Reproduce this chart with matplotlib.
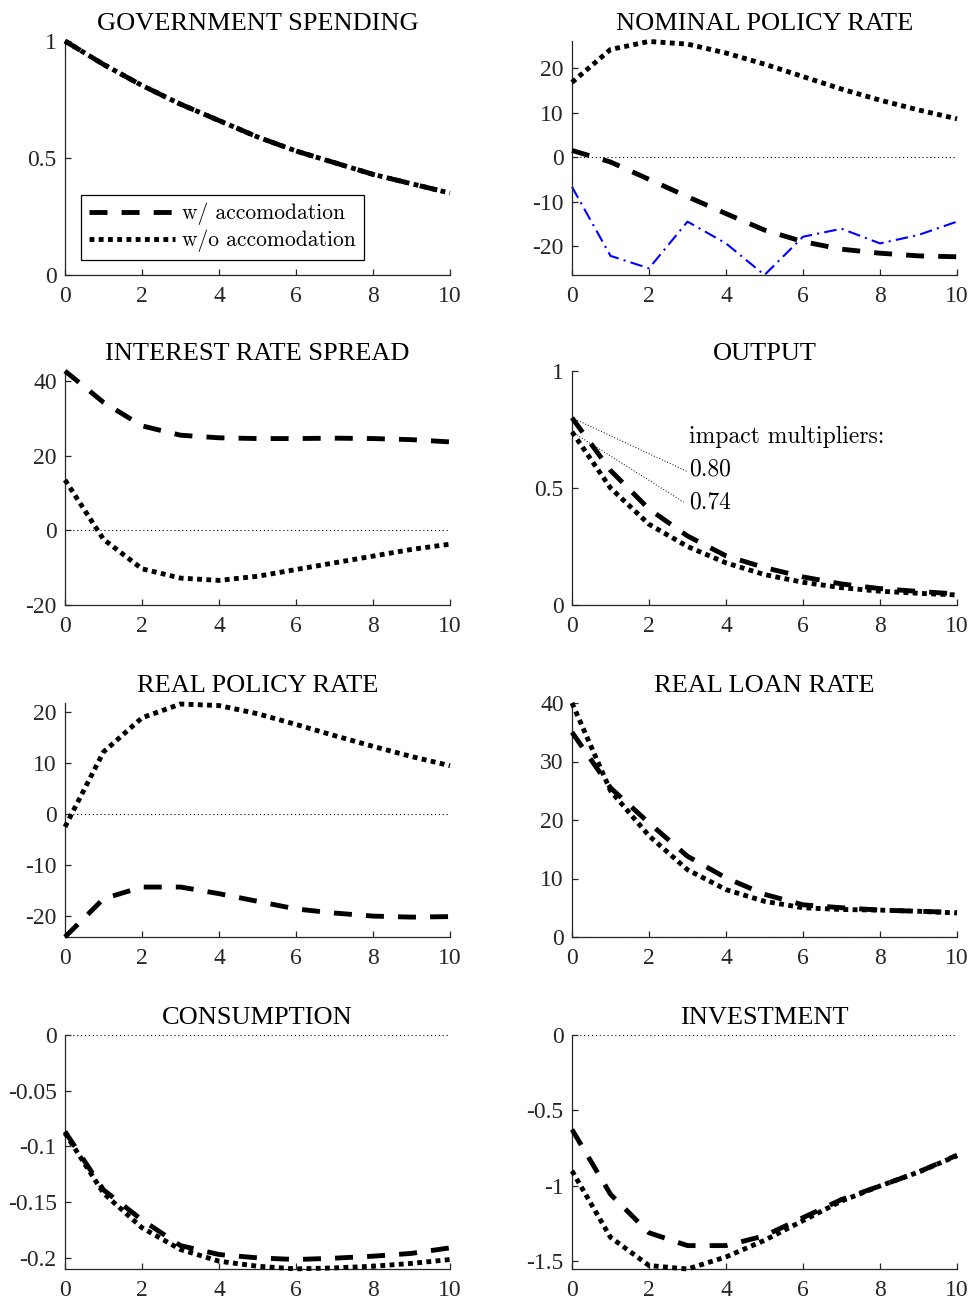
import matplotlib
matplotlib.use("Agg")
import matplotlib.pyplot as plt
from matplotlib.ticker import FuncFormatter

plt.rcParams['font.family'] = ['Liberation Serif', 'DejaVu Serif']
plt.rcParams['axes.unicode_minus'] = False

# ---------------- data ----------------
horizon = list(range(11))
xticks = [0, 2, 4, 6, 8, 10]

gov_w = [1.00, 0.90, 0.81, 0.73, 0.66, 0.59, 0.53, 0.48, 0.43, 0.39, 0.35]
gov_wo = [1.00, 0.90, 0.81, 0.73, 0.66, 0.59, 0.53, 0.48, 0.43, 0.39, 0.35]

nom_w = [1.5, -1.1, -5.0, -8.9, -12.7, -16.4, -19.0, -20.7, -21.6, -22.2, -22.4]
nom_wo = [16.8, 24.2, 26.0, 25.4, 23.4, 20.9, 18.1, 15.3, 12.8, 10.6, 8.6]
nom_blue = [-6.7, -22.2, -25.0, -14.5, -19.4, -26.5, -17.9, -16.1, -19.4, -17.5, -14.5]

spread_w = [42.7, 34.3, 28.0, 25.5, 24.8, 24.6, 24.6, 24.7, 24.6, 24.3, 23.7]
spread_wo = [13.5, -2.4, -10.3, -12.8, -13.4, -12.3, -10.5, -8.7, -6.9, -5.1, -3.7]

output_w = [0.80, 0.575, 0.41, 0.295, 0.21, 0.16, 0.12, 0.09, 0.07, 0.058, 0.047]
output_wo = [0.74, 0.50, 0.345, 0.25, 0.18, 0.13, 0.097, 0.074, 0.059, 0.05, 0.043]

rpol_w = [-24.1, -16.6, -14.3, -14.3, -15.6, -17.1, -18.6, -19.4, -20.0, -20.2, -20.1]
rpol_wo = [-2.5, 12.2, 18.9, 21.6, 21.3, 19.7, 17.6, 15.4, 13.3, 11.3, 9.5]

loan_w = [35.0, 25.5, 19.5, 13.8, 10.1, 7.3, 5.5, 5.0, 4.6, 4.4, 4.2]
loan_wo = [40.0, 25.0, 17.3, 11.5, 8.1, 6.1, 5.0, 4.7, 4.6, 4.4, 4.1]

cons_w = [-0.0866, -0.139, -0.166, -0.189, -0.197, -0.200, -0.2015, -0.2003, -0.1985, -0.196, -0.191]
cons_wo = [-0.088, -0.142, -0.173, -0.1925, -0.203, -0.2075, -0.2099, -0.209, -0.2075, -0.205, -0.2015]

inv_w = [-0.626, -1.055, -1.31, -1.395, -1.395, -1.33, -1.21, -1.09, -1.0, -0.908, -0.796]
inv_wo = [-0.90, -1.34, -1.527, -1.55, -1.47, -1.36, -1.23, -1.10, -1.0, -0.908, -0.80]

titles = ['GOVERNMENT SPENDING', 'NOMINAL POLICY RATE', 'INTEREST RATE SPREAD',
          'OUTPUT', 'REAL POLICY RATE', 'REAL LOAN RATE', 'CONSUMPTION', 'INVESTMENT']
series_w = [gov_w, nom_w, spread_w, output_w, rpol_w, loan_w, cons_w, inv_w]
series_wo = [gov_wo, nom_wo, spread_wo, output_wo, rpol_wo, loan_wo, cons_wo, inv_wo]
ylims = [(0, 1), (-26.5, 26.1), (-20, 42.7), (0, 1), (-24.1, 21.8), (0, 40),
         (-0.21, 0), (-1.55, 0)]
yticks = [[0, 0.5, 1], [-20, -10, 0, 10, 20], [-20, 0, 20, 40], [0, 0.5, 1],
          [-20, -10, 0, 10, 20], [0, 10, 20, 30, 40],
          [-0.2, -0.15, -0.1, -0.05, 0], [-1.5, -1, -0.5, 0]]
legend_labels = ['w/ accomodation', 'w/o accomodation']

# ---------------- layout ----------------
W, H = 969, 1300
fig = plt.figure(figsize=(W / 100, H / 100), dpi=100)
col_left = [65, 572]
ax_w = 385
row_bottom = [275, 605, 937, 1269]
ax_h = 234
axcol = '#262626'

dash_style = (0, (3.7, 2.9))
dot_style = (0, (1.0, 0.9))
fmt = FuncFormatter(lambda v, p: '%g' % v)

axes = []
for i in range(8):
    r, c = divmod(i, 2)
    left = col_left[c] / W
    bottom = 1 - row_bottom[r] / H
    ax = fig.add_axes([left, bottom, ax_w / W, ax_h / H])
    axes.append(ax)
    ax.axhline(0, color='k', lw=0.8, ls=(0, (1, 2.5)), zorder=1)
    ax.plot(horizon, series_w[i], color='k', lw=3.5, ls=dash_style,
            clip_on=False, zorder=3, label=legend_labels[0])
    ax.plot(horizon, series_wo[i], color='k', lw=3.5, ls=dot_style,
            clip_on=False, zorder=3, label=legend_labels[1])
    if i == 1:
        ax.plot(horizon, nom_blue, color='#0000ff', lw=1.5,
                ls=(0, (6, 2.5, 1, 2.5)), clip_on=False, zorder=2)
    ax.set_xlim(0, 10)
    ax.set_ylim(*ylims[i])
    ax.set_xticks(xticks)
    ax.set_yticks(yticks[i])
    ax.yaxis.set_major_formatter(fmt)
    ax.xaxis.set_major_formatter(fmt)
    for s in ['top', 'right']:
        ax.spines[s].set_visible(False)
    for s in ['left', 'bottom']:
        ax.spines[s].set_color(axcol)
        ax.spines[s].set_linewidth(0.9)
    ax.tick_params(direction='in', length=4, width=0.9, color=axcol,
                   labelcolor=axcol, labelsize=17)
    ax.tick_params(axis='x', pad=8)
    ax.tick_params(axis='y', pad=6)
    ax.set_title(titles[i], fontsize=19, pad=8, color='k')
    if i == 0:
        leg = ax.legend(loc='lower left', bbox_to_anchor=(0.042, 0.064),
                        borderaxespad=0, prop={'family': 'cmr10', 'size': 15.5},
                        handlelength=4.0, handletextpad=0.35, labelspacing=0.22,
                        borderpad=0.35, fancybox=False, framealpha=1,
                        edgecolor='k')
        leg.get_frame().set_linewidth(0.9)

# OUTPUT annotation
ax = axes[3]
ax.text(3.05, 0.72, 'impact multipliers:', va='center', ha='left',
        family='cmr10', fontsize=17)
ax.text(3.05, 0.58, '%.2f' % output_w[0], va='center', ha='left',
        family='cmr10', fontsize=17)
ax.text(3.05, 0.44, '%.2f' % output_wo[0], va='center', ha='left',
        family='cmr10', fontsize=17)
ax.plot([0, 3.0], [output_w[0], 0.57], color='k', lw=0.7, ls=(0, (1, 2)))
ax.plot([0, 2.9], [output_wo[0], 0.44], color='k', lw=0.7, ls=(0, (1, 2)))

fig.savefig('out.png', dpi=100)
